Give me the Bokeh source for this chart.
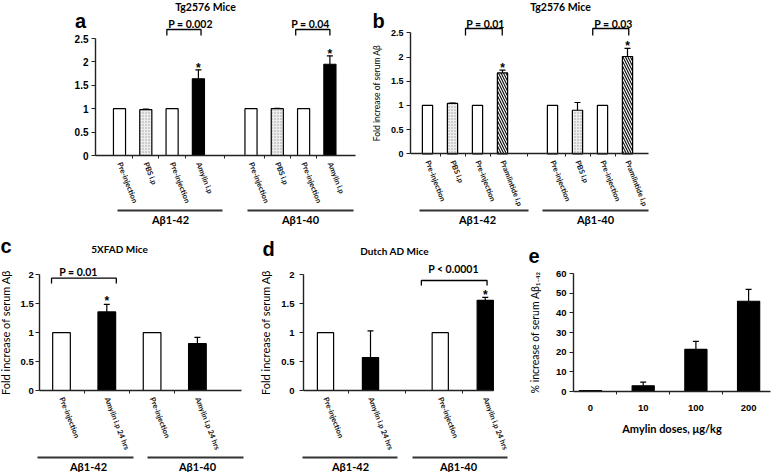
import math
from bokeh.plotting import figure
from bokeh.layouts import column, row
from bokeh.models import ColumnDataSource, FixedTicker, Whisker, TeeHead
from bokeh.core.properties import value
from bokeh.embed import file_html
from bokeh.resources import INLINE

# ---------------- data ----------------
groups = ["Aβ1-42", "Aβ1-40"]

a_title = "Tg2576 Mice"
a_labels = ["Pre-injection", "PBS i.p", "Pre-injection", "Amylin i.p",
            "Pre-injection", "PBS i.p", "Pre-injection", "Amylin i.p"]
a_x = [1, 2, 3, 4, 6, 7, 8, 9]
a_values = [1.0, 0.98, 1.0, 1.64, 1.0, 1.0, 1.0, 1.95]
a_errors = [0, 0.01, 0, 0.19, 0, 0.01, 0, 0.18]
a_stars = [3, 7]
a_pvalues = ["P = 0.002", "P = 0.04"]
a_yticks = [0, 0.5, 1, 1.5, 2, 2.5]

b_title = "Tg2576 Mice"
b_labels = ["Pre-injection", "PBS i.p", "Pre-injection", "Pramlintide i.p",
            "Pre-injection", "PBS i.p", "Pre-injection", "Pramlintide i.p"]
b_x = [1, 2, 3, 4, 6, 7, 8, 9]
b_values = [1.0, 1.04, 1.0, 1.67, 1.0, 0.9, 1.0, 2.01]
b_errors = [0, 0.01, 0, 0.06, 0, 0.16, 0, 0.17]
b_stars = [3, 7]
b_pvalues = ["P = 0.01", "P = 0.03"]
b_yticks = [0, 0.5, 1, 1.5, 2, 2.5]

c_title = "5XFAD Mice"
c_labels = ["Pre-injection", "Amylin i.p 24 hrs", "Pre-injection", "Amylin i.p 24 hrs"]
c_x = [1, 2, 3, 4]
c_values = [1.0, 1.36, 1.0, 0.81]
c_errors = [0, 0.13, 0, 0.11]
c_stars = [1]
c_pvalues = ["P = 0.01"]
c_yticks = [0, 0.5, 1, 1.5, 2]

d_title = "Dutch AD Mice"
d_labels = ["Pre-injection", "Amylin i.p 24 hrs", "Pre-injection", "Amylin i.p 24 hrs"]
d_x = [1, 2, 3.55, 4.55]
d_values = [1.0, 0.57, 1.0, 1.56]
d_errors = [0, 0.46, 0, 0.05]
d_stars = [3]
d_pvalues = ["P < 0.0001"]
d_yticks = [0, 0.5, 1, 1.5, 2]

e_doses = ["0", "10", "100", "200"]
e_x = [1, 2, 3, 4]
e_values = [0.5, 2.9, 21.4, 45.9]
e_errors = [0, 1.9, 4.1, 6.0]
e_yticks = [0, 10, 20, 30, 40, 50, 60]

ylabel_fold = "Fold increase of serum Aβ"
ylabel_pct = "% increase of serum Aβ₁₋₄₂"
xlabel_dose = "Amylin doses, μg/kg"

# ---------------- styles ----------------
STYLE = {
    "Pre-injection": ("white", " ", "black", 4),
    "PBS i.p": ("#eeeeee", ".", "#9a9a9a", 3),
    "Amylin i.p": ("black", " ", "black", 4),
    "Amylin i.p 24 hrs": ("black", " ", "black", 4),
    "Pramlintide i.p": ("white", "\\", "#111111", 5),
    "dose": ("black", " ", "black", 4),
}
FONT = "Lato"
TICKFONT = "Liberation Sans"


def make_panel(W, H, x1px, sx, y0px, ky, yaxis_px, xend_px, yticks, ytick_size):
    xs = 1 - x1px / sx
    ye = y0px / ky
    p = figure(width=W, height=H, x_range=(xs, xs + W / sx), y_range=(ye - H / ky, ye),
               output_backend="svg", toolbar_location=None, min_border=0,
               title_location=None)
    p.outline_line_color = None
    p.grid.visible = False
    X = lambda px: xs + px / sx
    Y = lambda py: ye - py / ky
    xa = p.xaxis[0]
    ya = p.yaxis[0]
    xa.fixed_location = 0
    ya.fixed_location = X(yaxis_px)
    xa.bounds = (X(yaxis_px), X(xend_px))
    ya.bounds = (yticks[0], yticks[-1])
    ya.ticker = FixedTicker(ticks=yticks, minor_ticks=[])
    ya.major_label_overrides = {t: f"{t:g}" for t in yticks}
    ya.major_label_text_font = TICKFONT
    ya.major_label_text_font_style = "bold"
    ya.major_label_text_font_size = ytick_size
    ya.major_label_text_color = "black"
    ya.major_tick_out = 4
    ya.major_tick_in = 0
    ya.major_label_standoff = 3
    xa.major_tick_out = 0
    xa.major_tick_in = 0
    for ax in (xa, ya):
        ax.axis_line_width = 1.4
        ax.axis_line_color = "#222222"
        ax.major_tick_line_color = "#222222"
        ax.minor_tick_line_color = "#222222"
    return p, X, Y


def add_bars(p, xpos, vals, errs, kinds, width):
    fills = [STYLE[k][0] for k in kinds]
    hatches = [STYLE[k][1] for k in kinds]
    hcols = [STYLE[k][2] for k in kinds]
    hscales = [STYLE[k][3] for k in kinds]
    src = ColumnDataSource(dict(x=xpos, top=vals, fill=fills, hatch=hatches,
                                hc=hcols, hs=hscales))
    p.vbar(x="x", top="top", width=width, source=src, fill_color="fill",
           hatch_pattern="hatch", hatch_color="hc", hatch_scale="hs", hatch_weight=1.2,
           line_color="black", line_width=1.2)
    ex = [x for x, e in zip(xpos, errs) if e > 0]
    lo = [v for v, e in zip(vals, errs) if e > 0]
    hi = [v + e for v, e in zip(vals, errs) if e > 0]
    esrc = ColumnDataSource(dict(x=ex, lo=lo, hi=hi))
    w = Whisker(source=esrc, base="x", lower="lo", upper="hi", dimension="height",
                line_color="black", line_width=1.2, lower_head=None,
                upper_head=TeeHead(size=6, line_color="black", line_width=1.2))
    p.add_layout(w)


def cat_axis(p, xpos, labels, size="7.5px", orient=-1.2):
    xa = p.xaxis[0]
    mids = [(a + b) / 2 for a, b in zip(xpos[:-1], xpos[1:])]
    xa.ticker = FixedTicker(ticks=xpos, minor_ticks=mids)
    xa.major_label_overrides = {x: l for x, l in zip(xpos, labels)}
    xa.major_label_orientation = orient
    xa.major_tick_line_color = None
    xa.minor_tick_out = 3
    xa.minor_tick_in = 0
    xa.major_label_standoff = 4
    xa.major_label_text_font = FONT
    xa.major_label_text_font_style = "bold"
    xa.major_label_text_font_size = size
    xa.major_label_text_color = "#111111"


def txt(p, x, y, s, size, bold=True, align="center", baseline="middle", font=FONT, angle=0.0):
    p.text(x=[x], y=[y], text=[s], text_font=value(font), text_font_size=size,
           text_font_style="bold" if bold else "normal", text_align=align,
           text_baseline=baseline, angle=angle, text_color="black")


def bracket(p, x0, x1, ytop, ybot):
    p.multi_line(xs=[[x0, x0, x1, x1]], ys=[[ybot, ytop, ytop, ybot]],
                 line_color="black", line_width=1.3)


def stars(p, xpos, vals, errs, idx, ky, gap_px):
    xs_ = [xpos[i] for i in idx]
    ys_ = [vals[i] + errs[i] + gap_px / ky for i in idx]
    p.text(x=xs_, y=ys_, text=["*"] * len(idx), text_font=value(TICKFONT),
           text_font_size="12px", text_font_style="bold", text_align="center",
           text_baseline="middle", text_color="black")


def group_marks(p, X, Y, spans_px, centers_px, y_line, y_text, size="11px"):
    p.segment(x0=[X(s[0]) for s in spans_px], x1=[X(s[1]) for s in spans_px],
              y0=[Y(y_line)] * len(spans_px), y1=[Y(y_line)] * len(spans_px),
              line_color="#333333", line_width=2)
    for g, cx in zip(groups, centers_px):
        txt(p, X(cx), Y(y_text), g, size)


def ylabel(p, text, size, standoff):
    ya = p.yaxis[0]
    ya.axis_label = text
    ya.axis_label_text_font = FONT
    ya.axis_label_text_font_style = "normal"
    ya.axis_label_text_font_size = size
    ya.axis_label_text_color = "black"
    ya.axis_label_standoff = standoff


# ---------------- panel a ----------------
ka = 46.8
pa, Xa, Ya = make_panel(360, 228, 119, 26.3, 155, ka, 95, 355, a_yticks, "10px")
add_bars(pa, a_x, a_values, a_errors, a_labels, 0.46)
cat_axis(pa, a_x, a_labels)
stars(pa, a_x, a_values, a_errors, a_stars, ka, 2)
txt(pa, Xa(205), Ya(6), a_title, "10.5px")
txt(pa, Xa(80), Ya(20), "a", "20px", font=TICKFONT)
txt(pa, Xa(190), Ya(23), a_pvalues[0], "10.5px")
txt(pa, Xa(310), Ya(23), a_pvalues[1], "10.5px")
bracket(pa, 2.8, 4.1, Ya(29), Ya(35))
bracket(pa, 7.7, 9.0, Ya(29), Ya(35))
group_marks(pa, Xa, Ya, [(117, 222), (247, 353)], [170, 300], 210, 219)

# ---------------- panel b ----------------
kb = 48.4
pb, Xb, Yb = make_panel(415, 228, 67, 25, 153.3, kb, 50, 288, b_yticks, "9px")
add_bars(pb, b_x, b_values, b_errors, b_labels, 0.41)
cat_axis(pb, b_x, b_labels)
stars(pb, b_x, b_values, b_errors, b_stars, kb, 2)
ylabel(pb, ylabel_fold, "8.5px", 6)
txt(pb, Xb(200), Yb(6), b_title, "10.5px")
txt(pb, Xb(18), Yb(20), "b", "20px", font=TICKFONT)
txt(pb, Xb(125), Yb(23), b_pvalues[0], "10.5px")
txt(pb, Xb(253), Yb(23), b_pvalues[1], "10.5px")
bracket(pb, 2.52, 3.99, Yb(28), Yb(35))
bracket(pb, 7.61, 9.05, Yb(28), Yb(35))
group_marks(pb, Xb, Yb, [(59, 168), (182, 288)], [117, 235], 210, 219)

# ---------------- panel c ----------------
kc = 57.8
pc, Xc, Yc = make_panel(258, 244, 61, 45.3, 162, kc, 39.3, 241, c_yticks, "9.5px")
add_bars(pc, c_x, c_values, c_errors, c_labels, 0.39)
cat_axis(pc, c_x, c_labels)
stars(pc, c_x, c_values, c_errors, c_stars, kc, 3)
ylabel(pc, ylabel_fold, "11px", 5)
pc.yaxis[0].major_label_standoff = 2
txt(pc, Xc(119), Yc(20), c_title, "10px")
txt(pc, Xc(0), Yc(17), "c", "20px", font=TICKFONT, align="left")
txt(pc, Xc(78), Yc(43), c_pvalues[0], "10.5px")
bracket(pc, 0.78, 2.21, Yc(49.7), Yc(55))
group_marks(pc, Xc, Yc, [(37, 133), (147, 243)], [88, 197], 229, 238)

# ---------------- panel d ----------------
kd = 57.8
pd_, Xd, Yd = make_panel(270, 244, 67, 45, 162, kd, 45, 235, d_yticks, "9.5px")
add_bars(pd_, d_x, d_values, d_errors, d_labels, 0.36)
cat_axis(pd_, d_x, d_labels)
stars(pd_, d_x, d_values, d_errors, d_stars, kd, 2)
ylabel(pd_, ylabel_fold, "11px", 6)
pd_.yaxis[0].major_label_standoff = 5
txt(pd_, Xd(136), Yd(22), d_title, "10px")
txt(pd_, Xd(4), Yd(20), "d", "20px", font=TICKFONT, align="left")
txt(pd_, Xd(195), Yd(40), d_pvalues[0], "10.5px")
bracket(pd_, 3.13, 4.59, Yd(52), Yd(57))
group_marks(pd_, Xd, Yd, [(44, 139), (154, 249)], [92, 200], 229, 238)

# ---------------- panel e ----------------
ke = 118 / 60
pe, Xe, Ye = make_panel(247, 244, 62, 52.7, 163, ke, 45, 242, e_yticks, "9.5px")
add_bars(pe, e_x, e_values, e_errors, ["dose"] * 4, 0.42)
xe = pe.xaxis[0]
xe.ticker = FixedTicker(ticks=e_x, minor_ticks=[1.5, 2.5, 3.5])
xe.major_label_overrides = {x: d for x, d in zip(e_x, e_doses)}
xe.major_tick_line_color = None
xe.minor_tick_out = 3
xe.minor_tick_in = 0
xe.major_label_standoff = 10
xe.major_label_text_font = TICKFONT
xe.major_label_text_font_style = "bold"
xe.major_label_text_font_size = "9.5px"
xe.major_label_text_color = "black"
xe.axis_label = xlabel_dose
xe.axis_label_text_font = FONT
xe.axis_label_text_font_style = "bold"
xe.axis_label_text_font_size = "11px"
xe.axis_label_text_color = "black"
xe.axis_label_standoff = 8
ylabel(pe, ylabel_pct, "10.5px", 12)
txt(pe, Xe(0), Ye(27), "e", "20px", font=TICKFONT, align="left")

layout = column(row(pa, pb), row(pc, pd_, pe))
open("out.html", "w").write(file_html(layout, INLINE))
